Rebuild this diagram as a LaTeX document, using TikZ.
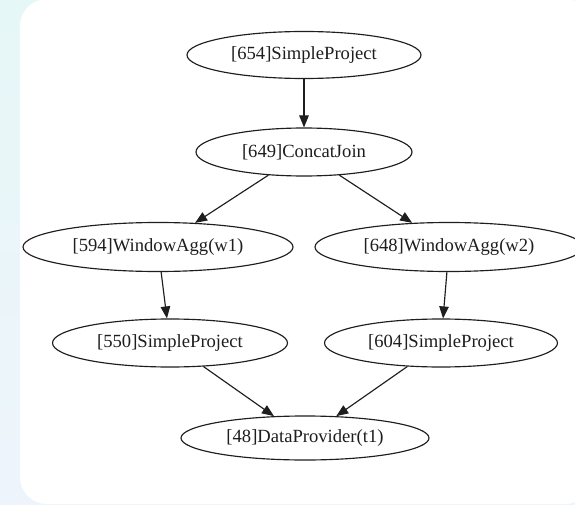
\documentclass[tikz,border=0pt]{standalone}
\usepackage{fontspec}
\setmainfont{Liberation Serif}
\usetikzlibrary{shapes.geometric,arrows.meta}
\definecolor{pagetop}{HTML}{E6F7F7}
\definecolor{pagebot}{HTML}{EEF4FB}
\definecolor{ink}{HTML}{1E1E1E}
\begin{document}
\begin{tikzpicture}[x=1pt,y=-1pt,
  op/.style={draw=ink, line width=1.15pt, ellipse, inner sep=0pt,
    text=ink, font=\fontsize{18.6}{20}\selectfont},
  flow/.style={draw=ink, line width=1.15pt,
    -{Triangle[length=12pt,width=9.5pt]}}]
\useasboundingbox (0,0) rectangle (575,505);
% page backdrop and card
\shade[top color=pagetop,bottom color=pagebot] (0,0) rectangle (575,505);
\fill[white,rounded corners=27pt] (20,-1) rectangle (592,504);

% operators
\node[op, minimum width=234pt, minimum height=47pt] (n654) at (304,55)  {[654]SimpleProject};
\node[op, minimum width=216pt, minimum height=48pt] (n649) at (304,152) {[649]ConcatJoin};
\node[op, minimum width=270pt, minimum height=49pt] (n594) at (158,247) {[594]WindowAgg(w1)};
\node[op, minimum width=268pt, minimum height=49pt] (n648) at (449,247) {[648]WindowAgg(w2)};
\node[op, minimum width=235pt, minimum height=48pt] (n550) at (170,343) {[550]SimpleProject};
\node[op, minimum width=233pt, minimum height=48pt] (n604) at (441,343) {[604]SimpleProject};
\node[op, minimum width=248pt, minimum height=44pt] (n48)  at (305,438) {[48]DataProvider(t1)};

% data flow
\draw[flow] (n654) -- (n649);
\draw[flow] (n649) -- (n594);
\draw[flow] (n649) -- (n648);
\draw[flow] (n594) -- (n550);
\draw[flow] (n648) -- (n604);
\draw[flow] (n550) -- (n48);
\draw[flow] (n604) -- (n48);
\end{tikzpicture}
\end{document}
